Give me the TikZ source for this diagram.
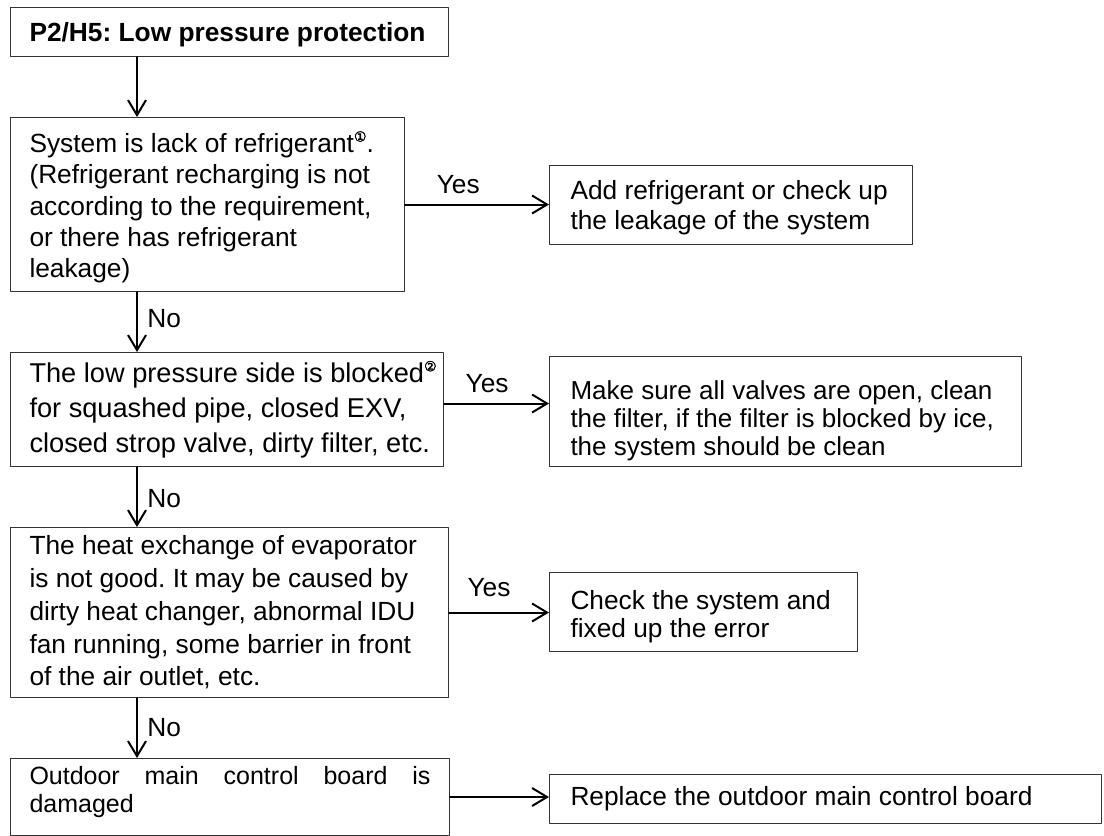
\documentclass[tikz,border=0pt]{standalone}
\usepackage{fontspec}
\setmainfont{Liberation Sans}
\newfontfamily\circfont[FakeBold=2]{DejaVu Sans}
\usetikzlibrary{arrows.meta}
\hyphenpenalty=10000
\tolerance=10000
\frenchspacing

\newcommand\setsz[2]{\fontsize{#1pt}{#2pt}\selectfont}
\newcommand\circnum[1]{\raisebox{11pt}{\fontsize{14pt}{14pt}\selectfont\circfont #1}}
\newcommand\fitline[1]{\makebox[\linewidth][l]{#1}}

\begin{document}
\begin{tikzpicture}[
  x=1pt, y=-1pt,
  line cap=round,
  line join=round,
  every node/.style={font=\setsz{26.3}{29}},
  box/.style={draw=black!80, line width=1pt, anchor=north west,
    inner xsep=19pt, inner ysep=0pt,
    execute at begin node={\spaceskip=0pt\xspaceskip=0pt}},
  outbox/.style={box, inner xsep=21pt},
  flow/.style={line width=2pt, -{Straight Barb[length=15pt,width=18pt]}}
]
  \useasboundingbox (0,0) rectangle (1104,836);

  \coordinate (spine) at (137,0);

  % Left column
  \node[box, text width=400pt, minimum height=49pt, text depth=0pt,
    font=\bfseries\setsz{26.3}{29}] (title) at (10,7)
    {P2/H5: Low pressure protection};

  \node[box, text width=356pt, minimum height=174pt, text height=27pt,
    font=\setsz{26.3}{31.3}] (lack) at (10,117)
    {System is lack of refrigerant\circnum{①}.\\
     (Refrigerant recharging is not\\
     according to the requirement,\\
     or there has refrigerant\\
     leakage)};

  \node[box, text width=395pt, minimum height=114pt,
    font=\setsz{27.2}{35}] (block) at (10,352)
    {\fitline{The low pressure side is blocked\circnum{②}}\\
     \fitline{for squashed pipe, closed EXV,}\\
     \fitline{closed strop valve, dirty filter, etc.}};

  \node[box, text width=400pt, minimum height=170pt,
    font=\setsz{26.3}{32.7}] (heat) at (10,527)
    {The heat exchange of evaporator\\
     is not good. It may be caused by\\
     dirty heat changer, abnormal IDU\\
     fan running, some barrier in front\\
     of the air outlet, etc.};

  \node[box, text width=401pt, minimum height=77pt, align=justify,
    text height=20pt, text depth=45pt,
    font=\setsz{25}{28}] (board) at (10,758)
    {Outdoor main control board is damaged};

  % Right column
  \node[outbox, text width=321pt, minimum height=79pt, text height=25pt,
    font=\setsz{26.3}{30}] (add) at (549,165)
    {Add refrigerant or check up\\
     the leakage of the system};

  \node[outbox, text width=430pt, minimum height=110pt, text height=38pt,
    font=\setsz{26}{28}] (clean) at (549,356)
    {Make sure all valves are open, clean\\
     the filter, if the filter is blocked by ice,\\
     the system should be clean};

  \node[outbox, text width=266pt, minimum height=79pt, text height=29pt,
    font=\setsz{26.3}{28}] (check) at (549,572)
    {Check the system and\\
     fixed up the error};

  \node[outbox, text width=510pt, minimum height=49pt] (replace) at (549,774)
    {Replace the outdoor main control board};

  % No
  \draw[flow] (title.south -| spine) -- (lack.north -| spine);
  \draw[flow] (lack.south -| spine)
    -- node[right=6pt, pos=0.44] {No} (block.north -| spine);
  \draw[flow] (block.south -| spine)
    -- node[right=6pt, pos=0.52] {No} (heat.north -| spine);
  \draw[flow] (heat.south -| spine)
    -- node[right=6pt, pos=0.49] {No} (board.north -| spine);

  % Yes
  \draw[flow] (lack.east)
    -- node[above=6pt, pos=0.37] {Yes} (lack.east -| add.west);
  \draw[flow] ([yshift=6pt]block.east)
    -- node[above=6pt, pos=0.41] {Yes} ([yshift=6pt]block.east -| clean.west);
  \draw[flow] (heat.east)
    -- node[above=11pt, pos=0.4] {Yes} (heat.east -| check.west);
  \draw[flow] (board.east) -- (board.east -| replace.west);
\end{tikzpicture}
\end{document}
